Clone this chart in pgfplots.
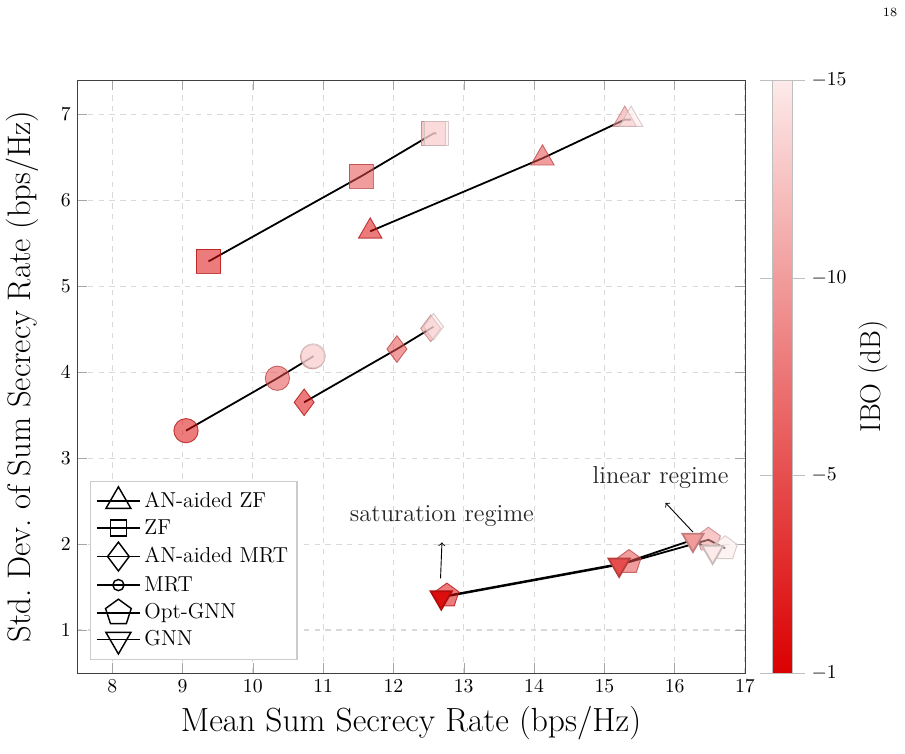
\documentclass[border=0pt]{standalone}
\usepackage{pgfplots}
\pgfplotsset{compat=1.18}
\usepackage{pgfplotstable}

% columns: mean rate, std. dev., input back-off (dB)
\pgfplotstableread{
x y ibo
11.67 5.64 -1
14.12 6.49 -5
15.29 6.94 -10
15.38 6.94 -15
}\anzf
\pgfplotstableread{
x y ibo
9.37 5.29 -1
11.54 6.28 -5
12.57 6.78 -10
12.61 6.78 -15
}\zf
\pgfplotstableread{
x y ibo
10.73 3.65 -1
12.05 4.27 -5
12.53 4.51 -10
12.57 4.53 -15
}\anmrt
\pgfplotstableread{
x y ibo
9.05 3.32 -1
10.35 3.93 -5
10.85 4.18 -10
10.86 4.19 -15
}\mrt
\pgfplotstableread{
x y ibo
12.76 1.40 -1
15.35 1.79 -5
16.48 2.05 -10
16.72 1.95 -15
}\optgnn
\pgfplotstableread{
x y ibo
12.68 1.38 -1
15.21 1.76 -5
16.26 2.05 -10
16.54 1.91 -15
}\gnn

\pgfplotsset{
  ibo series/.style={
    scatter, black, line width=1pt,
    point meta=explicit,
    scatter/use mapped color={draw=mapped color!80!black, fill=mapped color},
    mark options={solid, line width=0.5pt, fill opacity=0.55, draw opacity=0.75},
    forget plot,
  },
}

\begin{document}
\begin{tikzpicture}
\useasboundingbox (-42.8pt,-45pt) rectangle (460pt,373.9pt);
\node[font=\scriptsize] at (451.7pt,367.2pt) {18};
\begin{axis}[
  at={(0pt,0pt)}, anchor=south west,
  scale only axis, width=371.1pt, height=329.4pt,
  xmin=7.5, xmax=17, ymin=0.5, ymax=7.4,
  xtick={8,...,17}, ytick={1,...,7},
  tick label style={font=\fontsize{11}{13}\selectfont},
  grid=major,
  grid style={dashed, gray!30, line width=0.6pt},
  axis line style={black!75},
  tick style={gray!70},
  major tick length=5.7pt,
  xlabel={Mean Sum Secrecy Rate (bps/Hz)},
  ylabel={Std.\ Dev.\ of Sum Secrecy Rate (bps/Hz)},
  xlabel style={font=\fontsize{18.6}{22}\selectfont, at={(axis description cs:0.5,-0.0844)}, anchor=center},
  ylabel style={font=\fontsize{18.1}{22}\selectfont, at={(axis description cs:-0.0824,0.5)}, anchor=center},
  colormap={ibomap}{rgb255=(253,234,234) rgb255=(219,0,0)},
  point meta min=-15, point meta max=0,
  colorbar,
  colorbar style={
    at={(parent axis.north east)}, anchor=north west, xshift=6.8pt,
    width=11.1pt,
    y dir=reverse,
    ytick={-15,-10,-5,0},
    yticklabels={$-15$,$-10$,$-5$,$-1$},
    tick label style={font=\fontsize{11}{13}\selectfont},
    axis line style={gray!50},
    tick style={gray!50},
    tick align=outside,
    major tick length=7pt,
    ytick pos=both,
    yticklabel pos=right,
    ylabel={IBO (dB)},
    ylabel style={font=\fontsize{16}{19}\selectfont},
  },
  legend style={
    at={(0.0195,0.022)}, anchor=south west,
    draw=gray!40, line width=0.6pt,
    font=\fontsize{12}{14}\selectfont,
    row sep=1pt, inner sep=3pt,
  },
  legend cell align=left,
  legend image code/.code={
    \draw[mark repeat=2, mark phase=2]
      plot coordinates {(0cm,0cm) (0.42cm,0cm) (0.84cm,0cm)};
  },
]
\addplot[ibo series, mark=triangle*, mark size=7.5pt] table[x=x, y=y, meta=ibo] {\anzf};
\addplot[ibo series, mark=square*, mark size=6.7pt] table[x=x, y=y, meta=ibo] {\zf};
\addplot[ibo series, mark=diamond*, mark size=7.4pt] table[x=x, y=y, meta=ibo] {\anmrt};
\addplot[ibo series, mark=*, mark size=6.75pt] table[x=x, y=y, meta=ibo] {\mrt};
\addplot[ibo series, mark=pentagon*, mark size=7pt] table[x=x, y=y, meta=ibo] {\optgnn};
\addplot[ibo series, mark=triangle*, mark size=6.8pt, mark options={rotate=180}] table[x=x, y=y, meta=ibo] {\gnn};

\addlegendimage{black, line width=1pt, mark=triangle, mark size=8pt, mark options={solid, line width=0.8pt}}
\addlegendentry{AN-aided ZF}
\addlegendimage{black, line width=1pt, mark=square, mark size=4.5pt, mark options={solid, line width=0.8pt}}
\addlegendentry{ZF}
\addlegendimage{black, line width=1pt, mark=diamond, mark size=8pt, mark options={solid, line width=0.8pt}}
\addlegendentry{AN-aided MRT}
\addlegendimage{black, line width=1pt, mark=o, mark size=3.1pt, mark options={solid, line width=0.8pt}}
\addlegendentry{MRT}
\addlegendimage{black, line width=1pt, mark=pentagon, mark size=7.5pt, mark options={solid, line width=0.8pt}}
\addlegendentry{Opt-GNN}
\addlegendimage{black, line width=1pt, mark=triangle, mark size=8pt, mark options={solid, line width=0.8pt, rotate=180}}
\addlegendentry{GNN}

\node[font=\fontsize{13.6}{16}\selectfont, text=black!85] at (axis cs:12.69,2.33) {saturation regime};
\draw[->, black, line width=0.5pt] (axis cs:12.67,1.60) -- (axis cs:12.69,2.02);
\node[font=\fontsize{13.6}{16}\selectfont, text=black!85] at (axis cs:15.80,2.77) {linear regime};
\draw[->, black, line width=0.5pt] (axis cs:16.26,2.14) -- (axis cs:15.87,2.48);
\end{axis}
\end{tikzpicture}
\end{document}
